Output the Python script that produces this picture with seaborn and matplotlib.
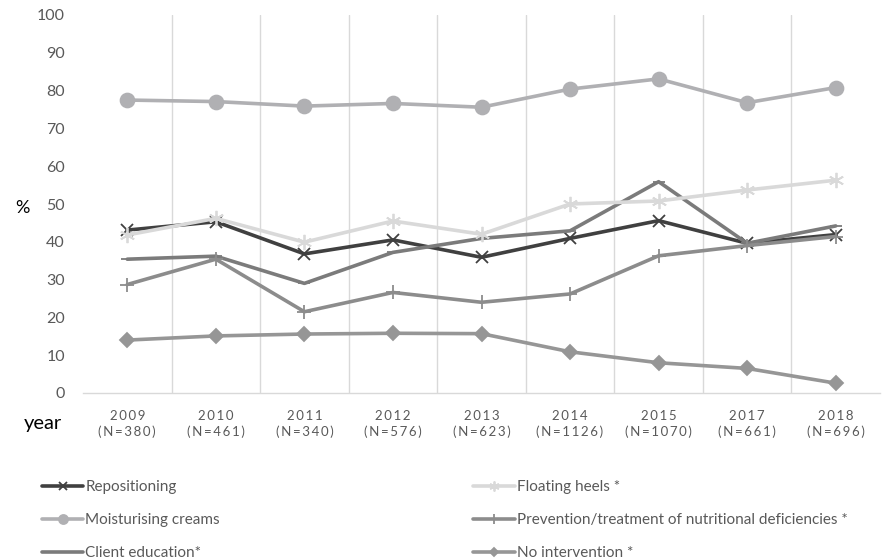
import numpy as np
import pandas as pd
import matplotlib
matplotlib.use("Agg")
import matplotlib.pyplot as plt
import seaborn as sns

# data (percent per survey year)
years = ["2009", "2010", "2011", "2012", "2013", "2014", "2015", "2017", "2018"]
sample_sizes = [380, 461, 340, 576, 623, 1126, 1070, 661, 696]

repositioning = [43.1, 45.3, 36.8, 40.5, 35.9, 40.9, 45.6, 39.6, 41.9]
moisturising = [77.5, 77.1, 75.9, 76.6, 75.6, 80.4, 83.1, 76.8, 80.8]
client_education = [35.4, 36.2, 29.0, 37.2, 40.9, 42.9, 55.9, 39.6, 44.2]
floating_heels = [41.8, 46.2, 39.9, 45.5, 42.0, 50.0, 50.8, 53.7, 56.3]
nutrition = [28.7, 35.4, 21.5, 26.6, 24.0, 26.2, 36.3, 39.0, 41.4]
no_intervention = [14.0, 15.1, 15.6, 15.8, 15.7, 10.9, 8.0, 6.5, 2.6]

series_names = [
    "Repositioning",
    "Moisturising creams",
    "Client education*",
    "Floating heels *",
    "Prevention/treatment of nutritional deficiencies *",
    "No intervention *",
]
series_values = [repositioning, moisturising, client_education,
                 floating_heels, nutrition, no_intervention]

# style per series: colour, marker, marker size
styles = {
    "Repositioning": ("#404040", "x", 9),
    "Moisturising creams": ("#b0b0b3", "o", 10),
    "Client education*": ("#7b7b7b", "_", 9),
    "Floating heels *": ("#d9d9d9", (6, 2, 0), 11),
    "Prevention/treatment of nutritional deficiencies *": ("#8c8c8c", "+", 10),
    "No intervention *": ("#969696", "D", 7),
}

rows = []
for name, vals in zip(series_names, series_values):
    for i, v in enumerate(vals):
        rows.append({"series": name, "pos": i, "pct": v})
df = pd.DataFrame(rows)

sns.set_theme(style="white")
plt.rcParams["font.family"] = ["Lato", "DejaVu Sans"]

fig = plt.figure(figsize=(8.82, 5.6), dpi=100)
ax = fig.add_axes([83 / 882, 1 - 393 / 560, 797 / 882, 378 / 560])

for name in series_names:
    color, marker, ms = styles[name]
    sub = df[df["series"] == name]
    sns.lineplot(data=sub, x="pos", y="pct", ax=ax, color=color, linewidth=2.6,
                 marker=marker, markersize=ms, markeredgewidth=1.3,
                 markeredgecolor=color, markerfacecolor=color, label=name)

ax.set_xlim(-0.5, len(years) - 0.5)
ax.set_ylim(0, 100)
ax.set_yticks(range(0, 101, 10))

thin = "\u2009"
xlabels = [thin.join(y) + "\n" + thin.join(f"(N={n})") for y, n in zip(years, sample_sizes)]
ax.set_xticks(range(len(years)))
ax.set_xticklabels(xlabels, fontsize=9.5, color="#595959", linespacing=1.35)
ax.tick_params(axis="x", length=0, pad=12)
ax.tick_params(axis="y", length=0, pad=13, labelsize=11.5, labelcolor="#595959")

for x in np.arange(0.5, len(years) - 0.5, 1):
    ax.axvline(x, color="#d9d9d9", linewidth=1, zorder=0)

for side in ["top", "right", "left"]:
    ax.spines[side].set_visible(False)
ax.spines["bottom"].set_color("#d9d9d9")
ax.spines["bottom"].set_linewidth(1)
ax.set_xlabel("")
ax.set_ylabel("")

fig.text(22 / 882, 1 - 208 / 560, "%", fontsize=13, color="black", ha="center", va="center")
fig.text(43 / 882, 1 - 424 / 560, "year", fontsize=14.5, color="black", ha="center", va="center")

handles, labels = ax.get_legend_handles_labels()
ax.get_legend().remove()
leg = fig.legend(handles, labels, ncol=2, loc="upper left",
                 bbox_to_anchor=(36 / 882, 1 - 474 / 560), frameon=False,
                 fontsize=11, handlelength=2.7, handletextpad=0.12,
                 labelspacing=1.25, columnspacing=16.6, borderaxespad=0,
                 markerscale=0.65)
for t in leg.get_texts():
    t.set_color("#595959")

fig.savefig("out.png", dpi=100)
